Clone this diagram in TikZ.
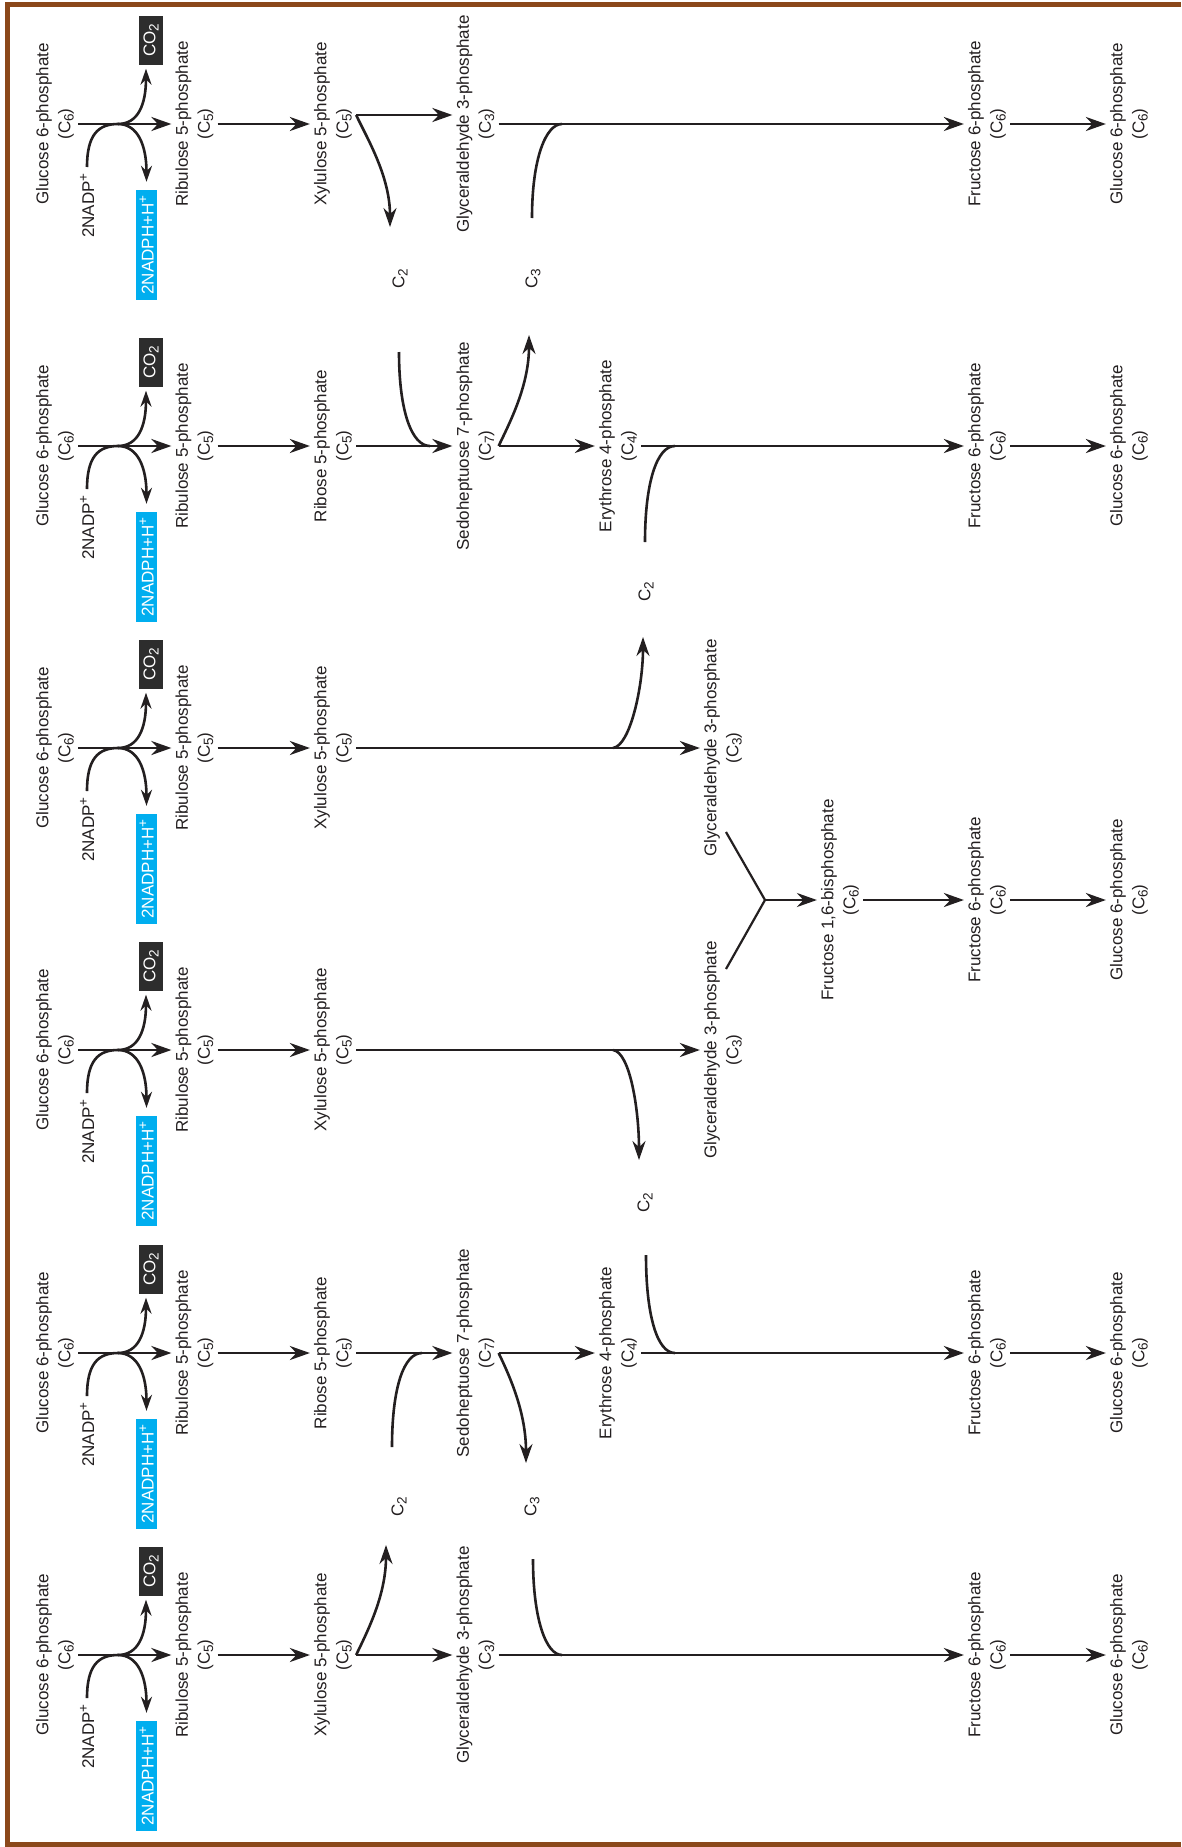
\documentclass[tikz,border=0pt]{standalone}
\usepackage{fontspec}
\setmainfont{Liberation Sans}
\usetikzlibrary{arrows.meta}
\definecolor{ink}{RGB}{35,31,32}
\definecolor{framebrown}{RGB}{139,72,26}
\definecolor{boxgray}{RGB}{45,45,45}
\definecolor{nadcyan}{RGB}{0,174,239}
\newcommand\metfont{\fontsize{17}{22}\selectfont}
\newcommand\mysub[1]{\raisebox{-0.35ex}{\fontsize{13.5}{13.5}\selectfont #1}}
\newcommand\mysup[1]{\raisebox{0.7ex}{\fontsize{13.5}{13.5}\selectfont #1}}
\tikzset{
  met/.style={rotate=90, align=center, font=\metfont, inner sep=4pt, text=ink},
  lbl/.style={rotate=90, font=\metfont, inner sep=1pt, text=ink},
  co2box/.style={rotate=90, fill=boxgray, text=white, font=\metfont, minimum width=49pt, minimum height=24pt, inner sep=0pt},
  nadbox/.style={rotate=90, fill=nadcyan, text=white, font=\metfont, minimum width=110pt, minimum height=21pt, inner sep=0pt},
  arr/.style={draw=ink, line width=2.8pt, -{Stealth[length=20pt,width=14pt]}},
  sarr/.style={draw=ink, line width=2.6pt, -{Stealth[length=16pt,width=11pt]}},
  carr/.style={draw=ink, line width=2.6pt, -{Stealth[length=19pt,width=13pt]}},
  ln/.style={draw=ink, line width=2.6pt},
  yarm/.style={draw=ink, line width=2.2pt},
  frame/.style={draw=framebrown, line width=5pt},
}
\begin{document}
\begin{tikzpicture}[x=1pt,y=-1pt]
\useasboundingbox (0,0) rectangle (1181,1847);
\fill[white] (0,0) rectangle (1181,1847);
\draw[frame] (1181,4) -- (7.3,4) -- (7.3,1844.5) -- (1181,1844.5);

% common start of every row
\foreach \i/\r in {1/124,2/446,3/748,4/1050,5/1353,6/1655}{
  \node[met] (g\i) at (55,\r) {Glucose 6-phosphate\\(C\mysub{6})};
  \node[met] (rb\i) at (194.5,\r) {Ribulose 5-phosphate\\(C\mysub{5})};
  \node[co2box] (co\i) at (151,\r-84) {CO\mysub{2}};
  \node[nadbox] (nh\i) at (146.5,\r+121) {2NADPH+H\mysup{+}};
  \node[lbl, anchor=east] (np\i) at (87,\r+48) {2NADP\mysup{+}};
  \coordinate (bp\i) at (118,\r);
  \draw[arr] (g\i) -- (rb\i);
  \draw[sarr] ([yshift=5pt]np\i.east) .. controls +(0,-32) and +(-20,0) .. (bp\i)
       .. controls +(20,0) and +(0,-36) .. ([yshift=8pt]nh\i.east);
  \draw[sarr] (bp\i) .. controls +(20,0) and +(0,36) .. ([xshift=-5pt,yshift=-4pt]co\i.west);
}

% common end of rows
\foreach \i/\r in {1/124,2/446,3/900,5/1353,6/1655}{
  \node[met] (p\i) at (987,\r) {Fructose 6-phosphate\\(C\mysub{6})};
  \node[met] (z\i) at (1129,\r) {Glucose 6-phosphate\\(C\mysub{6})};
  \draw[arr] (p\i) -- (z\i);
}

% ---------- row 1
\node[met] (x1) at (333,124) {Xylulose 5-phosphate\\(C\mysub{5})};
\node[met] (t1) at (475.5,124) {Glyceraldehyde 3-phosphate\\(C\mysub{3})};
\draw[arr] (rb1) -- (x1);
\draw[arr] ([yshift=9pt]x1.south) -- ([yshift=9pt]t1.north);
\coordinate (c2d1) at (390,227);
\draw[carr] ([yshift=9pt]x1.south) .. controls +(12,25) and +(0,-50) .. (c2d1);
\draw[arr] (t1) -- (p1);
\coordinate (c3u1) at (532,218);
\coordinate (j1) at (562,124);
\draw[ln] (c3u1) .. controls +(0,-60) and +(-16,0) .. (j1);
\node[lbl] (c2a) at (400,279) {C\mysub{2}};
\node[lbl] (c3a) at (533,279) {C\mysub{3}};

% ---------- row 2
\node[met] (rib2) at (333,446) {Ribose 5-phosphate\\(C\mysub{5})};
\node[met] (sed2) at (475.5,446) {Sedoheptuose 7-phosphate\\(C\mysub{7})};
\node[met] (e2) at (618,446) {Erythrose 4-phosphate\\(C\mysub{4})};
\draw[arr] (rb2) -- (rib2);
\draw[arr] (rib2) -- (sed2);
\draw[arr] (sed2) -- (e2);
\draw[arr] (e2) -- (p2);
\coordinate (c2u2) at (399,352);
\coordinate (j2) at (430,446);
\draw[ln] (c2u2) .. controls +(0,60) and +(-18,0) .. (j2);
\coordinate (c3t2) at (529,335);
\draw[carr] (sed2.south) .. controls +(12,-25) and +(0,50) .. (c3t2);
\coordinate (c2b2) at (645,542);
\coordinate (j2b) at (675,446);
\draw[ln] (c2b2) .. controls +(0,-60) and +(-18,0) .. (j2b);
\node[lbl] (c2b) at (646,592) {C\mysub{2}};

% ---------- rows 3 and 4
\node[met] (x3) at (333,748) {Xylulose 5-phosphate\\(C\mysub{5})};
\node[met] (t3) at (723,748) {Glyceraldehyde 3-phosphate\\(C\mysub{3})};
\node[met] (x4) at (333,1050) {Xylulose 5-phosphate\\(C\mysub{5})};
\node[met] (t4) at (723,1050) {Glyceraldehyde 3-phosphate\\(C\mysub{3})};
\draw[arr] (rb3) -- (x3);
\draw[arr] (x3) -- (t3);
\draw[arr] (rb4) -- (x4);
\draw[arr] (x4) -- (t4);
\coordinate (b3) at (613,748);
\coordinate (c2t3) at (643,637);
\draw[carr] (b3) .. controls +(17,-2) and +(0,50) .. (c2t3);
\coordinate (b4) at (613,1050);
\coordinate (c2t4) at (639,1160);
\draw[carr] (b4) .. controls +(17,2) and +(0,-50) .. (c2t4);
\node[lbl] (c2c) at (645,1203) {C\mysub{2}};
\node[met] (f16) at (840,900) {Fructose 1,6-bisphosphate\\(C\mysub{6})};
\coordinate (ya) at (726,832);
\coordinate (yb) at (726,969);
\coordinate (jn) at (765,900);
\draw[yarm] (ya) -- (jn) -- (yb);
\draw[arr, line width=2.2pt] (jn) -- (f16);
\draw[arr] (f16) -- (p3);

% ---------- row 5
\node[met] (rib5) at (333,1353) {Ribose 5-phosphate\\(C\mysub{5})};
\node[met] (sed5) at (475.5,1353) {Sedoheptuose 7-phosphate\\(C\mysub{7})};
\node[met] (e5) at (618,1353) {Erythrose 4-phosphate\\(C\mysub{4})};
\draw[arr] (rb5) -- (rib5);
\draw[arr] (rib5) -- (sed5);
\draw[arr] (sed5) -- (e5);
\draw[arr] (e5) -- (p5);
\coordinate (c2b5) at (392,1447);
\coordinate (j5) at (422,1353);
\draw[ln] (c2b5) .. controls +(0,-60) and +(-18,0) .. (j5);
\coordinate (c3t5) at (526,1463);
\draw[carr] (sed5.south) .. controls +(12,25) and +(0,-50) .. (c3t5);
\coordinate (c2u5) at (646,1255);
\coordinate (j5b) at (675,1353);
\draw[ln] (c2u5) .. controls +(0,60) and +(-18,0) .. (j5b);
\node[lbl] (c2d) at (399,1507) {C\mysub{2}};
\node[lbl] (c3b) at (532,1507) {C\mysub{3}};

% ---------- row 6
\node[met] (x6) at (333,1655) {Xylulose 5-phosphate\\(C\mysub{5})};
\node[met] (t6) at (475.5,1655) {Glyceraldehyde 3-phosphate\\(C\mysub{3})};
\draw[arr] (rb6) -- (x6);
\draw[arr] (x6) -- (t6);
\draw[arr] (t6) -- (p6);
\coordinate (c2t6) at (386,1545);
\draw[carr] (x6.south) .. controls +(12,-25) and +(0,50) .. (c2t6);
\coordinate (c3u6) at (533,1559);
\coordinate (j6) at (562,1655);
\draw[ln] (c3u6) .. controls +(0,60) and +(-16,0) .. (j6);
\end{tikzpicture}
\end{document}
